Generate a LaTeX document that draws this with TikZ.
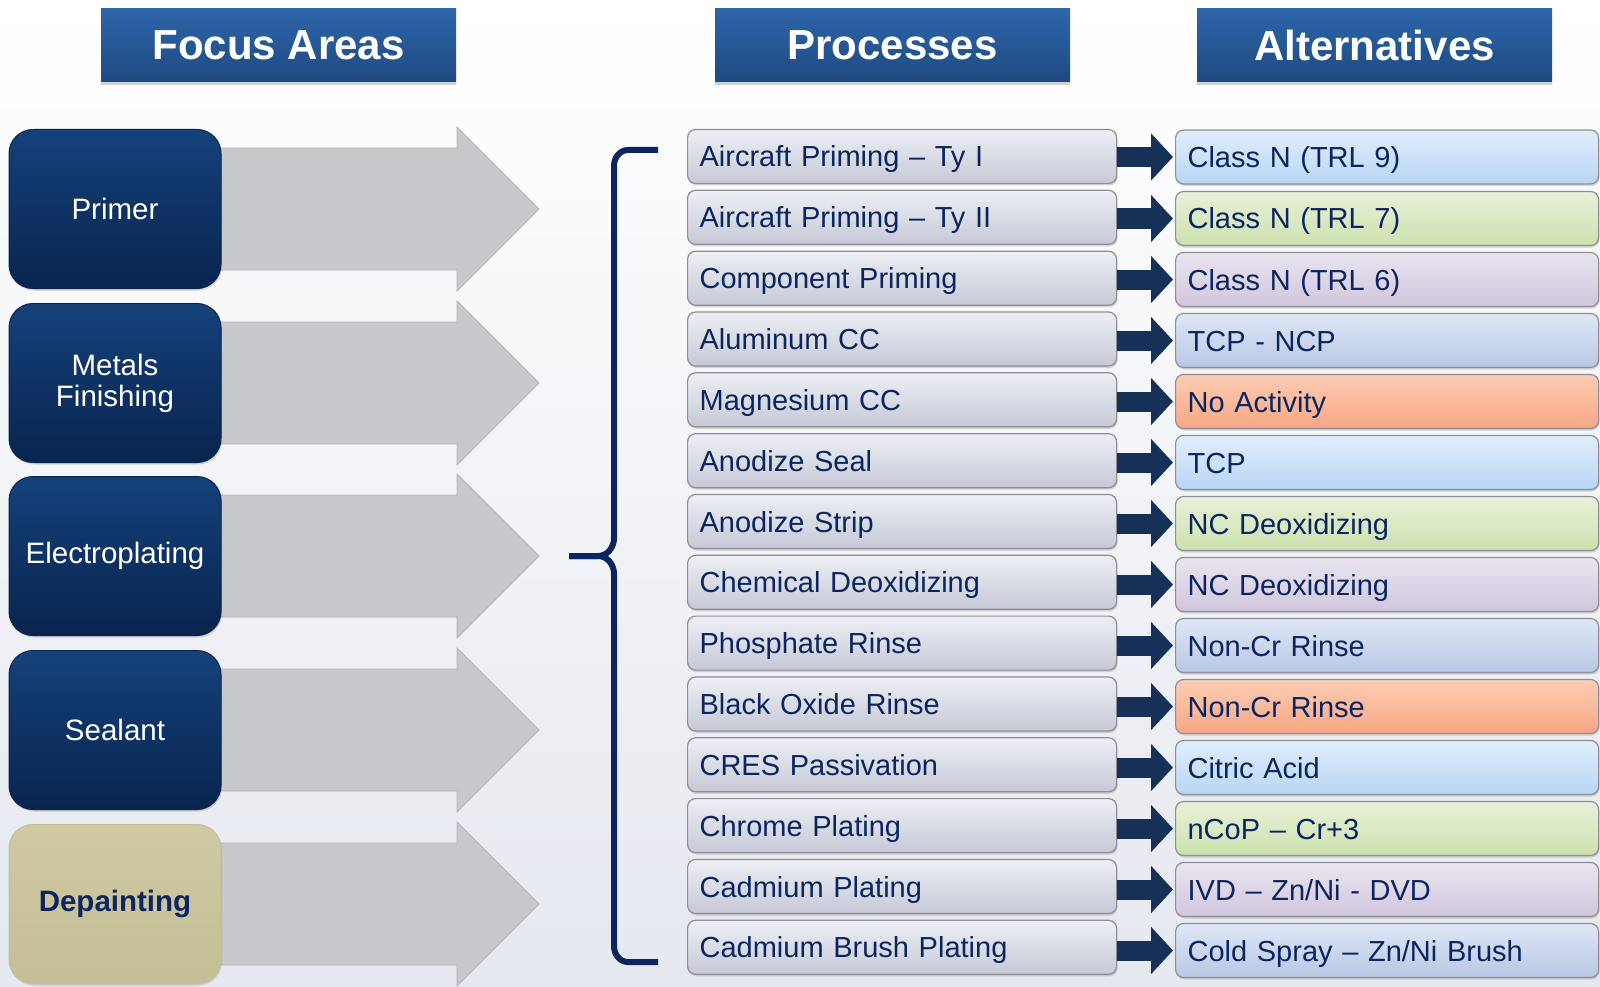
\documentclass[tikz,border=0pt]{standalone}
\usepackage{fontspec}
\setmainfont{Liberation Sans}
\usetikzlibrary{positioning, arrows.meta, shadows}

\definecolor{navy}{HTML}{0A2560}
\definecolor{headA}{HTML}{2D66AA}
\definecolor{headB}{HTML}{1E4980}
\definecolor{areaA}{HTML}{15417A}
\definecolor{areaB}{HTML}{08244F}
\definecolor{khakiA}{HTML}{D0CAA4}
\definecolor{khakiB}{HTML}{C4BE95}
\definecolor{greyfill}{HTML}{C8C9CD}
\definecolor{greyedge}{HTML}{B3B4B8}
\definecolor{procA}{HTML}{EDEFF5}
\definecolor{procB}{HTML}{C6C9D6}
\definecolor{procedge}{HTML}{8E8F94}
\definecolor{linkcol}{HTML}{173057}
\definecolor{bgbot}{HTML}{E5E8EF}
\definecolor{blueA}{HTML}{E0EEFD}
\definecolor{blueB}{HTML}{B9D5F4}
\definecolor{greenA}{HTML}{E8F1D9}
\definecolor{greenB}{HTML}{CDE1AE}
\definecolor{lilacA}{HTML}{EAE5F0}
\definecolor{lilacB}{HTML}{D0C6DD}
\definecolor{slateA}{HTML}{DFE7F6}
\definecolor{slateB}{HTML}{B7C7E5}
\definecolor{peachA}{HTML}{FDCDB4}
\definecolor{peachB}{HTML}{F8A683}

\begin{document}
\begin{tikzpicture}[x=1pt, y=-1pt,
    headbox/.style={top color=headA, bottom color=headB, minimum width=355pt, minimum height=73pt,
        text=white, font=\fontsize{42}{46}\selectfont\bfseries,
        drop shadow={opacity=.35, shadow xshift=0pt, shadow yshift=-3pt}},
    areabox/.style={draw=areaB, line width=1pt, top color=areaA, bottom color=areaB, rounded corners=24pt,
        minimum width=212pt, minimum height=159pt, align=center, text=white,
        font=\fontsize{29.5}{31}\selectfont,
        drop shadow={opacity=.3, shadow xshift=1pt, shadow yshift=-2pt}},
    greyarrow/.style={fill=greyfill, draw=greyedge, line width=.8pt, line join=miter},
    procbox/.style={draw=procedge, line width=1.2pt, rounded corners=8pt, top color=procA, bottom color=procB,
        minimum height=54pt, text height=21pt, text depth=0pt, text width=405pt, inner xsep=12pt,
        align=left, anchor=west, text=navy, font=\fontsize{29}{31}\selectfont,
        drop shadow={opacity=.3, shadow xshift=1pt, shadow yshift=-2pt}},
    altbox/.style={procbox, text width=399pt},
    altblue/.style={altbox, top color=blueA, bottom color=blueB},
    altgreen/.style={altbox, top color=greenA, bottom color=greenB},
    altlilac/.style={altbox, top color=lilacA, bottom color=lilacB},
    altslate/.style={altbox, top color=slateA, bottom color=slateB},
    altpeach/.style={altbox, top color=peachA, bottom color=peachB},
    linkarrow/.style={draw=linkcol, line width=20pt, -{Triangle[length=22pt, width=46pt]}, shorten >=2pt},
    bracket/.style={draw=navy, line width=6pt, line join=round}]

    \useasboundingbox (0,0) rectangle (1600,987);
    \shade[top color=white, bottom color=bgbot] (0,0) rectangle (1600,987);

    % big grey arrows behind the focus areas
    \draw[greyarrow] (200,148) -- ++(257,0) -- ++(0,-21) -- ++(82,82) -- ++(-82,82) -- ++(0,-21) -- ++(-257,0) -- cycle;
    \draw[greyarrow] (200,322) -- ++(257,0) -- ++(0,-21) -- ++(82,82) -- ++(-82,82) -- ++(0,-21) -- ++(-257,0) -- cycle;
    \draw[greyarrow] (200,495) -- ++(257,0) -- ++(0,-21) -- ++(82,82) -- ++(-82,82) -- ++(0,-21) -- ++(-257,0) -- cycle;
    \draw[greyarrow] (200,669) -- ++(257,0) -- ++(0,-21) -- ++(82,82) -- ++(-82,82) -- ++(0,-21) -- ++(-257,0) -- cycle;
    \draw[greyarrow] (200,843) -- ++(257,0) -- ++(0,-21) -- ++(82,82) -- ++(-82,82) -- ++(0,-21) -- ++(-257,0) -- cycle;

    % headers
    \node[headbox] (hfocus) at (278.5,45.5) {Focus Areas};
    \node[headbox] (hproc) at (892.5,45.5) {Processes};
    \node[headbox] (halt) at (1374.5,45.5) {Alternatives};

    % focus areas
    \node[areabox] (f1) at (115,209) {Primer};
    \node[areabox] (f2) at (115,383) {Metals\\Finishing};
    \node[areabox] (f3) at (115,556) {Electroplating};
    \node[areabox] (f4) at (115,730) {Sealant};
    \node[areabox, draw=khakiB, top color=khakiA, bottom color=khakiB, text=navy,
        font=\fontsize{29.5}{31}\selectfont\bfseries] (f5) at (115,904) {Depainting};

    % brace
    \draw[bracket] (658,150) -- (628,150) to[out=180, in=90] (614,166) -- (614,538)
        to[out=-90, in=0] (598,556) -- (569,556);
    \draw[bracket] (569,556) -- (598,556) to[out=0, in=90] (614,574) -- (614,946)
        to[out=-90, in=180] (628,962) -- (658,962);

    % processes
    \node[procbox] (p1) at (687,156.5) {Aircraft Priming – Ty I};
    \node[procbox] (p2) at (687,217.3) {Aircraft Priming – Ty II};
    \node[procbox] (p3) at (687,278.2) {Component Priming};
    \node[procbox] (p4) at (687,339.0) {Aluminum CC};
    \node[procbox] (p5) at (687,399.8) {Magnesium CC};
    \node[procbox] (p6) at (687,460.7) {Anodize Seal};
    \node[procbox] (p7) at (687,521.5) {Anodize Strip};
    \node[procbox] (p8) at (687,582.3) {Chemical Deoxidizing};
    \node[procbox] (p9) at (687,643.1) {Phosphate Rinse};
    \node[procbox] (p10) at (687,704.0) {Black Oxide Rinse};
    \node[procbox] (p11) at (687,764.8) {CRES Passivation};
    \node[procbox] (p12) at (687,825.6) {Chrome Plating};
    \node[procbox] (p13) at (687,886.5) {Cadmium Plating};
    \node[procbox] (p14) at (687,947.3) {Cadmium Brush Plating};

    % alternatives
    \node[altblue] (a1) at (1175,157) {Class N (TRL 9)};
    \node[altgreen] (a2) at (1175,218.5) {Class N (TRL 7)};
    \node[altlilac] (a3) at (1175,279.5) {Class N (TRL 6)};
    \node[altslate] (a4) at (1175,340.5) {TCP - NCP};
    \node[altpeach] (a5) at (1175,401.5) {No Activity};
    \node[altblue] (a6) at (1175,462.5) {TCP};
    \node[altgreen] (a7) at (1175,523.5) {NC Deoxidizing};
    \node[altlilac] (a8) at (1175,584.5) {NC Deoxidizing};
    \node[altslate] (a9) at (1175,645.5) {Non-Cr Rinse};
    \node[altpeach] (a10) at (1175,706.5) {Non-Cr Rinse};
    \node[altblue] (a11) at (1175,767.5) {Citric Acid};
    \node[altgreen] (a12) at (1175,828.5) {nCoP – Cr+3};
    \node[altlilac] (a13) at (1175,889.5) {IVD – Zn/Ni - DVD};
    \node[altslate] (a14) at (1175,950.5) {Cold Spray – Zn/Ni Brush};

    % links
    \draw[linkarrow] (p1.east |- a1.west) -- (a1.west);
    \draw[linkarrow] (p2.east |- a2.west) -- (a2.west);
    \draw[linkarrow] (p3.east |- a3.west) -- (a3.west);
    \draw[linkarrow] (p4.east |- a4.west) -- (a4.west);
    \draw[linkarrow] (p5.east |- a5.west) -- (a5.west);
    \draw[linkarrow] (p6.east |- a6.west) -- (a6.west);
    \draw[linkarrow] (p7.east |- a7.west) -- (a7.west);
    \draw[linkarrow] (p8.east |- a8.west) -- (a8.west);
    \draw[linkarrow] (p9.east |- a9.west) -- (a9.west);
    \draw[linkarrow] (p10.east |- a10.west) -- (a10.west);
    \draw[linkarrow] (p11.east |- a11.west) -- (a11.west);
    \draw[linkarrow] (p12.east |- a12.west) -- (a12.west);
    \draw[linkarrow] (p13.east |- a13.west) -- (a13.west);
    \draw[linkarrow] (p14.east |- a14.west) -- (a14.west);
\end{tikzpicture}
\end{document}
